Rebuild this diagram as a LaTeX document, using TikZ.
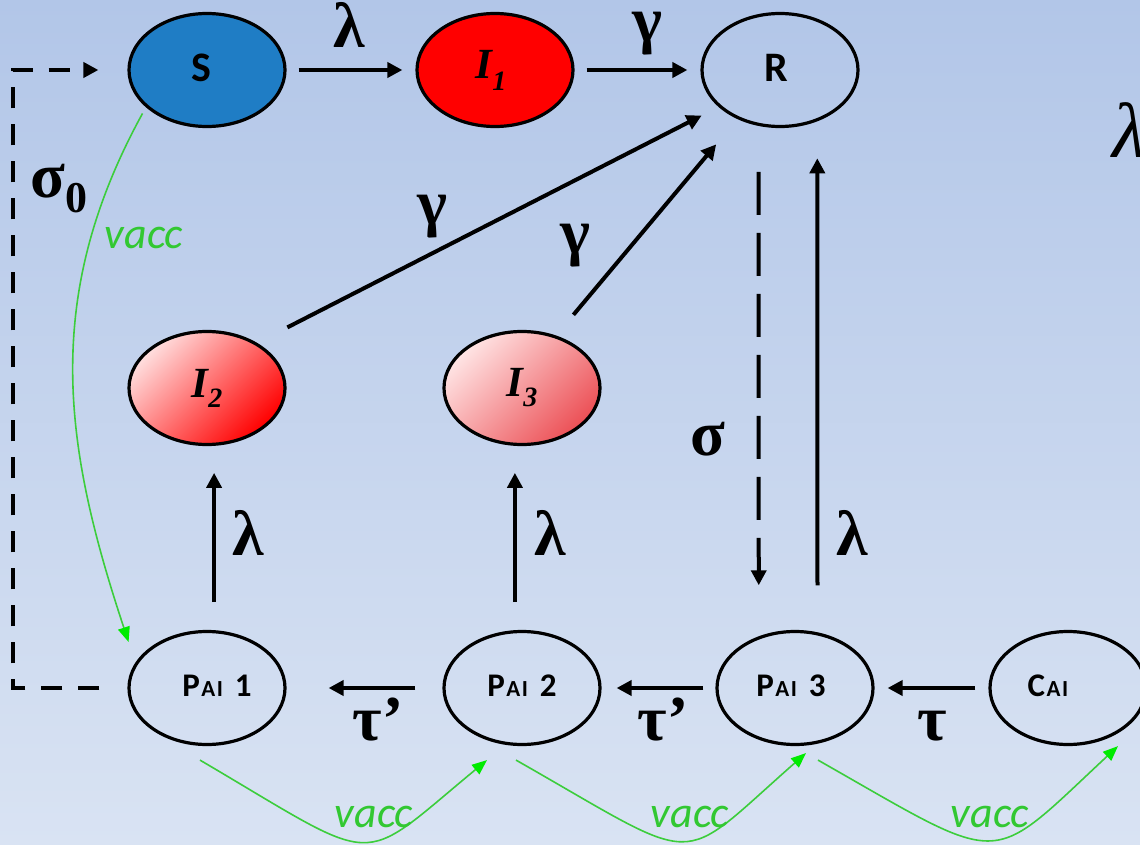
\documentclass[tikz,border=0pt]{standalone}
\usepackage{fontspec}
\setmainfont{Liberation Serif}
\newfontfamily\calib{Carlito}[Extension=.ttf,UprightFont=*-Regular,BoldFont=*-Bold,ItalicFont=*-Italic,BoldItalicFont=*-BoldItalic]
\usetikzlibrary{arrows.meta,shapes.geometric}
\definecolor{bgtop}{RGB}{178,198,232}
\definecolor{bgbot}{RGB}{217,227,243}
\definecolor{sblue}{RGB}{31,125,197}
\definecolor{vline}{RGB}{60,205,60}
\definecolor{vhead}{RGB}{0,235,0}
\definecolor{vtext}{RGB}{50,200,50}
\newcommand{\PAIlab}[1]{\raisebox{4pt}{P\kern1.5pt{\fontsize{23}{23}\selectfont A\kern1.5pt I}\kern12pt #1}}
\newcommand{\CAIlab}{\raisebox{4pt}{C\kern1.5pt{\fontsize{23}{23}\selectfont A\kern1.5pt I}}}
\begin{document}
\begin{tikzpicture}[x=1pt,y=-1pt,
  comp/.style={ellipse,draw=black,line width=3.2pt,minimum width=156pt,minimum height=113pt,inner sep=0pt,
    font=\calib\bfseries\fontsize{42}{42}\selectfont},
  pcomp/.style={comp,font=\calib\bfseries\fontsize{33}{33}\selectfont},
  icomp/.style={comp,font=\bfseries\itshape\fontsize{43}{43}\selectfont},
  arr/.style={line width=4pt,-{Triangle[length=15pt,width=15pt]}},
  dasharr/.style={arr,dash pattern=on 21pt off 16pt},
  longdash/.style={arr,dash pattern=on 43pt off 18pt},
  vacc/.style={vline,line width=1.6pt,-{Triangle[length=15pt,width=12pt,color=vhead]}},
  glab/.style={anchor=base,inner sep=0pt,font=\bfseries\fontsize{64}{64}\selectfont},
  vlab/.style={anchor=base,inner sep=0pt,text=vtext,font=\calib\itshape\fontsize{44}{44}\selectfont}]
\shade[top color=bgtop,bottom color=bgbot] (0,0) rectangle (1140,845);
\useasboundingbox (0,0) rectangle (1140,845);
% compartments
\node[comp,fill=sblue] (S) at (207,70) {\kern-12pt\raisebox{5pt}{S}};
\node[icomp,fill=red] (I1) at (495,70) {\kern-8pt I\raisebox{-12pt}{\fontsize{28}{28}\selectfont 1}};
\node[comp] (R) at (780,70) {\raisebox{4pt}{R}\kern8pt};
\node[icomp,top color={rgb,255:red,255;green,222;blue,222},bottom color=red,shading angle=45] (I2) at (207,388) {I\raisebox{-10pt}{\fontsize{28}{28}\selectfont 2}};
\node[icomp,top color={rgb,255:red,255;green,228;blue,228},bottom color={rgb,255:red,236;green,80;blue,86},shading angle=45] (I3) at (522,388) {I\raisebox{-10pt}{\fontsize{28}{28}\selectfont 3}};
\node[pcomp] (P1) at (207,688) {\kern20pt\PAIlab{1}};
\node[pcomp] (P2) at (522,688) {\PAIlab{2}};
\node[pcomp] (P3) at (795,688) {\PAIlab{3}\kern8pt};
\node[pcomp] (C) at (1068,688) {\CAIlab\kern40pt};
% arrows
\draw[arr,shorten <=12pt,shorten >=13pt] (S) -- (I1);
\draw[arr,shorten <=12pt,shorten >=13pt] (I1) -- (R);
\draw[arr,shorten <=34pt,shorten >=19pt] (I2.42) -- (R.211);
\draw[arr,shorten <=27pt,shorten >=33pt] (I3.57) -- (R.229);
\draw[longdash,shorten <=46pt,shorten >=51pt] (R.249) -- (P3.125);
\draw[arr,shorten <=47pt,shorten >=37pt] (P3.68) -- (R.306);
\draw[arr,shorten <=28pt,shorten >=27pt] (P1.83) -- (I2.277);
\draw[arr,shorten <=28pt,shorten >=27pt] (P2.97) -- (I3.263);
\draw[arr,shorten <=27pt,shorten >=42pt] (P2) -- (P1);
\draw[arr,shorten <=12pt,shorten >=15pt] (P3) -- (P2);
\draw[arr,shorten <=13pt,shorten >=13pt] (C) -- (P3);
\coordinate (cBL) at (13,688);
\coordinate (cTL) at (13,70);
\draw[dasharr] ([xshift=-28pt]P1.west) -- (cBL) -- (cTL) -- ([xshift=-29pt]S.west);
% vaccination
\draw[vacc] ([xshift=-6pt,yshift=-4pt]S.214) .. controls (40,300) and (65,450) .. ([xshift=-16pt,yshift=10pt]P1.150);
\draw[vacc] ([xshift=-7pt,yshift=-14pt]P1.south) .. controls +(184,108) and +(-132,109) .. ([xshift=-35pt,yshift=-14pt]P2.south);
\draw[vacc] ([xshift=-6pt,yshift=-14pt]P2.south) .. controls +(190,108) and +(-132,116) .. ([xshift=11pt,yshift=-7pt]P3.south);
\draw[vacc] ([xshift=23pt,yshift=-14pt]P3.south) .. controls +(190,108) and +(-132,123) .. ([xshift=50pt]C.south);
% labels
\node[glab] (l1) at (349,48) {λ};
\node[glab] (g1) at (647,42) {γ};
\node[glab] (g2) at (432,224) {γ};
\node[glab] (g3) at (575,253) {γ};
\node[glab] (sg) at (708,455) {σ};
\node[glab] (l4) at (852,555) {λ};
\node[glab] (l2) at (248,555) {λ};
\node[glab] (l3) at (550,555) {λ};
\node[glab] (t1) at (378,740) {τ’};
\node[glab] (t2) at (663,740) {τ’};
\node[glab] (t3) at (932,740) {τ};
\node[glab] (s0) at (59,197) {σ\raisebox{-15pt}{\fontsize{44}{44}\selectfont 0}};
\node[anchor=base west,inner sep=0pt,font=\itshape\fontsize{78}{78}\selectfont] (lx) at (1112,158) {λ};
\node[vlab] (v0) at (144,248) {vacc};
\node[vlab] (v1) at (374,827) {vacc};
\node[vlab] (v2) at (690,827) {vacc};
\node[vlab] (v3) at (990,827) {vacc};
\end{tikzpicture}
\end{document}
